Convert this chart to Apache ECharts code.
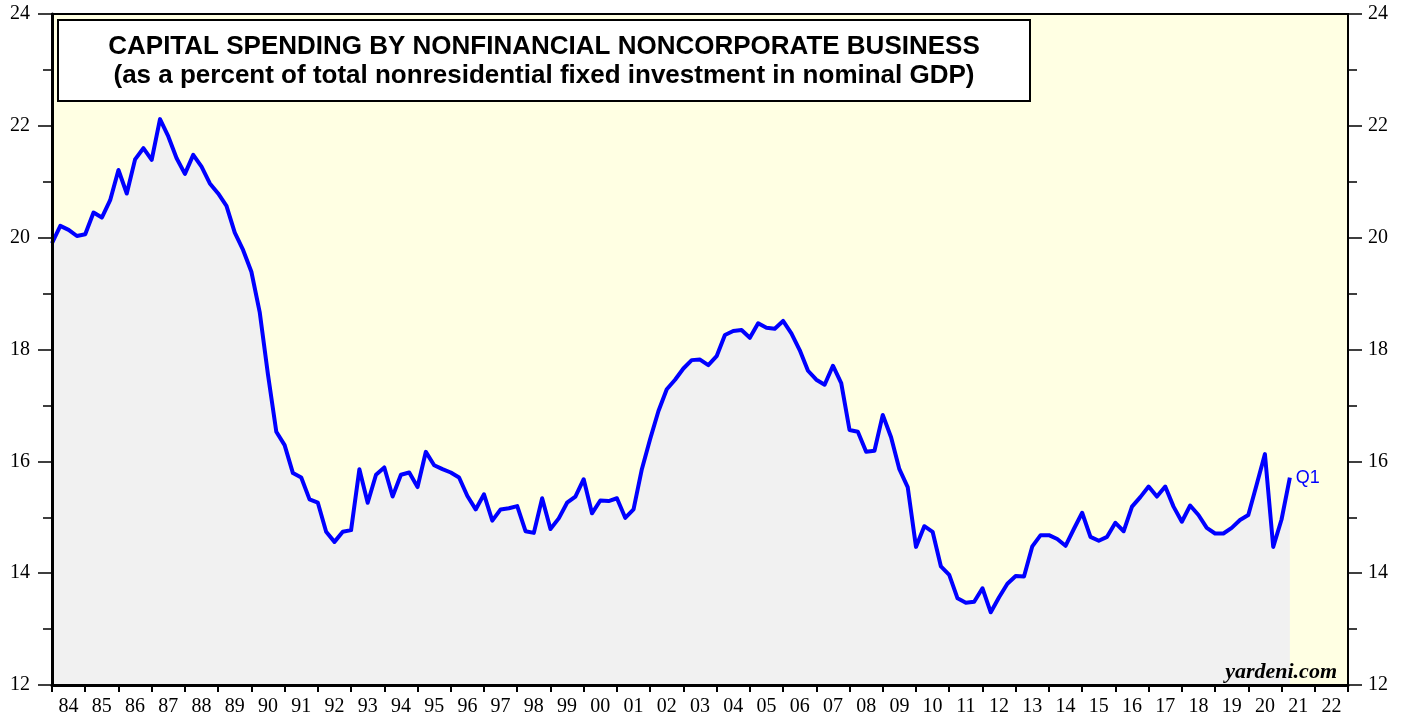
<!DOCTYPE html>
<html>
<head>
<meta charset="utf-8">
<title>Capital spending by nonfinancial noncorporate business</title>
<script src="https://cdn.jsdelivr.net/npm/echarts@6/dist/echarts.min.js"></script>
<style>
    html, body { margin: 0; padding: 0; background: #fff; }
    #chart-wrap { width: 1408px; height: 717px; }
</style>
</head>
<body>
<div id="chart-wrap"></div>
<script>
// year labels on the bottom axis, one per band
var yearLabels = ['84', '85', '86', '87', '88', '89', '90', '91', '92', '93',
    '94', '95', '96', '97', '98', '99', '00', '01', '02', '03',
    '04', '05', '06', '07', '08', '09', '10', '11', '12', '13',
    '14', '15', '16', '17', '18', '19', '20', '21', '22'];

// quarterly values (percent), plotted at quarter end; first one is 1983 Q4
var pct1980s = [19.90,
    20.21, 20.14, 20.03, 20.06,
    20.45, 20.36, 20.67, 21.21,
    20.79, 21.40, 21.60, 21.39,
    22.12, 21.81, 21.42, 21.14,
    21.48, 21.27, 20.97, 20.79,
    20.57, 20.09, 19.78, 19.39];
var pct1990s = [18.67, 17.55, 16.53, 16.29,
    15.79, 15.71, 15.32, 15.26,
    14.74, 14.56, 14.74, 14.77,
    15.86, 15.26, 15.76, 15.89,
    15.37, 15.76, 15.80, 15.54,
    16.17, 15.93, 15.86, 15.80,
    15.71, 15.38, 15.14, 15.41,
    14.94, 15.14, 15.16, 15.20,
    14.75, 14.72, 15.34, 14.79,
    14.98, 15.26, 15.37, 15.68];
var pct2000s = [15.07, 15.30, 15.29, 15.34,
    14.99, 15.14, 15.86, 16.40,
    16.90, 17.29, 17.46, 17.66,
    17.81, 17.82, 17.72, 17.88,
    18.26, 18.33, 18.35, 18.21,
    18.47, 18.39, 18.37, 18.51,
    18.29, 17.99, 17.62, 17.46,
    17.37, 17.71, 17.40, 16.56,
    16.53, 16.17, 16.19, 16.83,
    16.43, 15.86, 15.54, 14.47];
var pct2010s = [14.84, 14.74, 14.12, 13.97,
    13.55, 13.47, 13.49, 13.73,
    13.30, 13.57, 13.81, 13.95,
    13.94, 14.48, 14.68, 14.68,
    14.61, 14.49, 14.79, 15.08,
    14.65, 14.58, 14.65, 14.90,
    14.75, 15.19, 15.36, 15.55,
    15.37, 15.55, 15.19, 14.92,
    15.21, 15.04, 14.81, 14.71,
    14.71, 14.81, 14.95, 15.04];
var pct2020s = [15.58, 16.13, 14.47, 14.96, 15.71];

var startYear = 1984; // x of the first value (end of 1983 Q4)

var Chart = {
    node: null,
    obj: null,
    init: function() {
        var self = this;
        self.node = document.getElementById('chart-wrap');
        self.obj = echarts.init(self.node, null, { renderer: 'canvas' });
        self.obj.setOption(self.buildOption());
    },
    buildPoints: function() {
        var all = pct1980s.concat(pct1990s, pct2000s, pct2010s, pct2020s);
        return all.map(function(v, i) {
            return [startYear + i * 0.25, v];
        });
    },
    yAxisCfg: function(pos, lineW) {
        return {
            type: 'value',
            position: pos,
            min: 12,
            max: 24,
            interval: 2,
            z: 5,
            splitLine: { show: false },
            axisLine: { show: true, lineStyle: { color: '#000', width: lineW } },
            axisTick: { show: true, inside: false, length: 14, lineStyle: { color: '#000', width: 1.5 } },
            minorTick: { show: true, splitNumber: 2, length: 9, lineStyle: { color: '#000', width: 1.5 } },
            axisLabel: {
                color: '#000',
                fontFamily: 'Liberation Serif',
                fontSize: 20,
                margin: pos == 'left' ? 22 : 20
            }
        };
    },
    titleText: function(txt, y) {
        return {
            type: 'text',
            z: 11,
            x: 544,
            y: y,
            style: {
                text: txt,
                fill: '#000',
                font: 'bold 26px "Liberation Sans"',
                textAlign: 'center',
                textVerticalAlign: 'middle'
            }
        };
    },
    buildOption: function() {
        var self = this;
        return {
            animation: false,
            backgroundColor: '#fff',
            grid: {
                left: 52,
                right: 60,
                top: 14,
                bottom: 32,
                show: true,
                backgroundColor: '#FFFFE3',
                borderColor: '#000',
                borderWidth: 2
            },
            xAxis: [{
                type: 'category',
                data: yearLabels,
                boundaryGap: true,
                position: 'bottom',
                z: 5,
                axisLine: { show: true, onZero: false, lineStyle: { color: '#000', width: 3 } },
                axisTick: { show: true, alignWithLabel: false, interval: 0, length: 7, lineStyle: { color: '#000', width: 2 } },
                axisLabel: {
                    interval: 0,
                    color: '#000',
                    fontFamily: 'Liberation Serif',
                    fontSize: 20,
                    margin: 12
                },
                splitLine: { show: false }
            }, {
                type: 'value',
                min: 1984,
                max: 2023,
                show: false
            }],
            yAxis: [self.yAxisCfg('left', 3), self.yAxisCfg('right', 2)],
            series: [{
                type: 'line',
                xAxisIndex: 1,
                yAxisIndex: 0,
                data: self.buildPoints(),
                symbol: 'none',
                z: 3,
                lineStyle: { color: '#0000FF', width: 4, join: 'round' },
                areaStyle: { color: '#F1F1F1', opacity: 1, origin: 'start' },
                endLabel: {
                    show: true,
                    formatter: 'Q1',
                    color: '#0000FF',
                    fontFamily: 'Liberation Sans',
                    fontSize: 18,
                    distance: 6
                }
            }],
            graphic: [{
                type: 'rect',
                z: 10,
                shape: { x: 58, y: 20, width: 972, height: 81 },
                style: { fill: '#fff', stroke: '#000', lineWidth: 2 }
            },
            self.titleText('CAPITAL SPENDING BY NONFINANCIAL NONCORPORATE BUSINESS', 47),
            self.titleText('(as a percent of total nonresidential fixed investment in nominal GDP)', 76),
            {
                type: 'text',
                z: 11,
                x: 1337,
                y: 672,
                style: {
                    text: 'yardeni.com',
                    fill: '#000',
                    font: 'italic bold 22px "Liberation Serif"',
                    textAlign: 'right',
                    textVerticalAlign: 'middle'
                }
            }]
        };
    }
};

Chart.init();
</script>
</body>
</html>
